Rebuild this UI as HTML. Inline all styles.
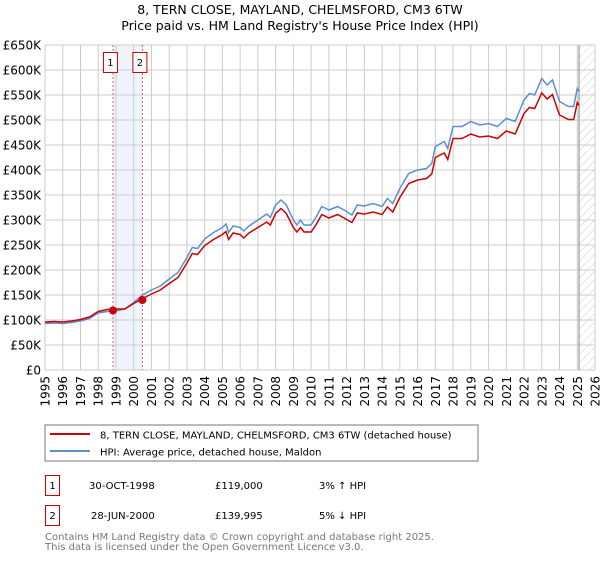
<!DOCTYPE html>
<html><head><meta charset="utf-8"><style>
body{margin:0;background:#fff;font-family:"DejaVu Sans","Liberation Sans",sans-serif;}
svg text{font-family:"DejaVu Sans","Liberation Sans",sans-serif;}
</style></head><body>
<svg id="c" width="600" height="560" xmlns="http://www.w3.org/2000/svg">
<defs><pattern id="hatch" width="6" height="6" patternUnits="userSpaceOnUse" patternTransform="rotate(45)"><line x1="0" y1="0" x2="0" y2="6" stroke="#ccc" stroke-width="1"/></pattern></defs>
<text x="300" y="14" text-anchor="middle" font-size="12.5" fill="#000">8, TERN CLOSE, MAYLAND, CHELMSFORD, CM3 6TW</text>
<text x="300" y="30" text-anchor="middle" font-size="12.5" fill="#000">Price paid vs. HM Land Registry's House Price Index (HPI)</text>
<g id="grid"></g>
<g id="marks"></g>
<g id="axes"></g>
<rect x="45" y="425" width="433" height="36" fill="#fff" stroke="#777"/>
<line x1="50" y1="434" x2="90" y2="434" stroke="#cc0000" stroke-width="2"/>
<text x="100" y="438.5" font-size="10">8, TERN CLOSE, MAYLAND, CHELMSFORD, CM3 6TW (detached house)</text>
<line x1="50" y1="451" x2="90" y2="451" stroke="#5b8fd0" stroke-width="2"/>
<text x="100" y="455.5" font-size="10">HPI: Average price, detached house, Maldon</text>
<g>
<rect x="45.5" y="475.5" width="14" height="20" fill="#fff" stroke="#cc0000"/>
<text x="52.5" y="489" text-anchor="middle" font-size="10">1</text>
<text x="89" y="489" font-size="10">30-OCT-1998</text>
<text x="215" y="489" font-size="10">£119,000</text>
<text x="319" y="489" font-size="10">3% ↑ HPI</text></g>
<g>
<rect x="45.5" y="505.5" width="14" height="20" fill="#fff" stroke="#cc0000"/>
<text x="52.5" y="519" text-anchor="middle" font-size="10">2</text>
<text x="91" y="519" font-size="10">28-JUN-2000</text>
<text x="215" y="519" font-size="10">£139,995</text>
<text x="319" y="519" font-size="10">5% ↓ HPI</text></g>
<text x="45" y="540" font-size="10" fill="#777">Contains HM Land Registry data © Crown copyright and database right 2025.</text>
<text x="45" y="550" font-size="10" fill="#777">This data is licensed under the Open Government Licence v3.0.</text>
</svg>
<script>
const hpiYears=[1995,1995.5,1996,1996.5,1997,1997.5,1998,1998.5,1999,1999.5,2000,2000.5,2001,2001.5,2002,2002.5,2003,2003.3,2003.6,2004,2004.5,2005,2005.2,2005.35,2005.6,2006,2006.2,2006.5,2007,2007.5,2007.7,2008,2008.3,2008.6,2009,2009.2,2009.4,2009.6,2010,2010.3,2010.6,2011,2011.5,2012,2012.3,2012.6,2013,2013.5,2014,2014.3,2014.6,2015,2015.5,2016,2016.5,2016.8,2017,2017.5,2017.7,2018,2018.5,2019,2019.5,2020,2020.5,2021,2021.5,2022,2022.3,2022.6,2023,2023.3,2023.6,2024,2024.5,2024.8,2025,2025.1];
const hpiValues=[93,94,93,95,98,103,114,117,118,122,135,150,160,168,182,195,225,245,243,262,275,285,292,275,288,285,278,288,300,312,305,330,340,330,300,290,300,290,290,307,327,320,327,317,310,330,328,333,327,343,333,363,393,400,403,413,447,457,443,487,487,497,490,493,487,503,497,540,553,550,583,570,580,537,527,527,563,557];
const priceValues=[96,97,96,98,101,106,117,121,122,122,133,143,152,160,173,185,214,233,231,249,261,271,277,261,274,271,264,274,285,296,290,313,323,313,285,276,285,276,276,292,311,304,311,301,295,314,312,316,311,326,316,345,373,380,383,392,425,434,421,463,463,472,466,468,463,478,472,513,525,523,554,542,551,510,501,501,535,529];
const saleYears=[1998.83,2000.49];
const saleValues=[119,140];
const saleLabels=["1","2"];
const yTicks=[0,50,100,150,200,250,300,350,400,450,500,550,600,650];
const yTickLabels=["£0","£50K","£100K","£150K","£200K","£250K","£300K","£350K","£400K","£450K","£500K","£550K","£600K","£650K"];
const xTicks=[1995,1996,1997,1998,1999,2000,2001,2002,2003,2004,2005,2006,2007,2008,2009,2010,2011,2012,2013,2014,2015,2016,2017,2018,2019,2020,2021,2022,2023,2024,2025,2026];
const dataEnd=2025.1;
const X0=45,X1=595,Y0=370,Y1=45;
const sx=t=>X0+(t-1995)/31*(X1-X0);
const sy=v=>Y0-v/650*(Y0-Y1);
const NS="http://www.w3.org/2000/svg";
function mk(tag,attrs,parent,txt){const e=document.createElementNS(NS,tag);for(const k in attrs)e.setAttribute(k,attrs[k]);if(txt!==undefined)e.textContent=txt;parent.appendChild(e);return e;}
const grid=document.getElementById('grid'),marks=document.getElementById('marks'),axes=document.getElementById('axes');
// shaded span between sales
const sh=mk('rect',{x:sx(saleYears[0]),y:Y1,width:sx(saleYears[1])-sx(saleYears[0]),height:Y0-Y1,fill:'#eef3fc'},grid);


const ht=mk('rect',{x:sx(dataEnd),y:Y1,width:X1-sx(dataEnd),height:Y0-Y1,fill:'url(#hatch)'},grid);


yTicks.forEach((v,i)=>{
 const l=mk('line',{x1:X0,x2:X1,y1:sy(v),y2:sy(v),stroke:'#ccc','stroke-width':1},grid);
 
 
 const t=mk('text',{x:X0-4,y:sy(v)+4.5,'text-anchor':'end','font-size':'12'},axes,yTickLabels[i]);
 
 
});
xTicks.forEach(y=>{
 const l=mk('line',{x1:sx(y),x2:sx(y),y1:Y1,y2:Y0,stroke:'#ccc','stroke-width':1},grid);
 
 
 const t=mk('text',{x:0,y:0,'font-size':'12','text-anchor':'end',transform:`translate(${sx(y)+4.5},376) rotate(-90)`},axes,String(y));
 
 
});
const el=mk('line',{x1:sx(dataEnd),x2:sx(dataEnd),y1:Y1,y2:Y0,stroke:'#999','stroke-width':1.2},grid);


saleYears.forEach((y,i)=>{
 const l=mk('line',{x1:sx(y),x2:sx(y),y1:Y1,y2:Y0,stroke:'#e06060','stroke-width':1,'stroke-dasharray':'2,2'},grid);
 
 
 const r=mk('rect',{x:sx(y)-9.5,y:52.5,width:14,height:20,fill:'#fff',stroke:'#cc0000'},grid);
 
 
 const t=mk('text',{x:sx(y)-2.5,y:66,'text-anchor':'middle','font-size':'10'},grid,saleLabels[i]);
 
 
});
const hp=mk('polyline',{points:hpiYears.map((t,i)=>sx(t)+','+sy(hpiValues[i])).join(' '),fill:'none',stroke:'#5b8fd0','stroke-width':1.5},marks);


const pp=mk('polyline',{points:hpiYears.map((t,i)=>sx(t)+','+sy(priceValues[i])).join(' '),fill:'none',stroke:'#cc0000','stroke-width':1.5},marks);


saleYears.forEach((y,i)=>{
 const c=mk('circle',{cx:sx(y),cy:sy(saleValues[i]),r:4,fill:'#cc0000'},marks);
 
 
});
</script>
</body></html>
